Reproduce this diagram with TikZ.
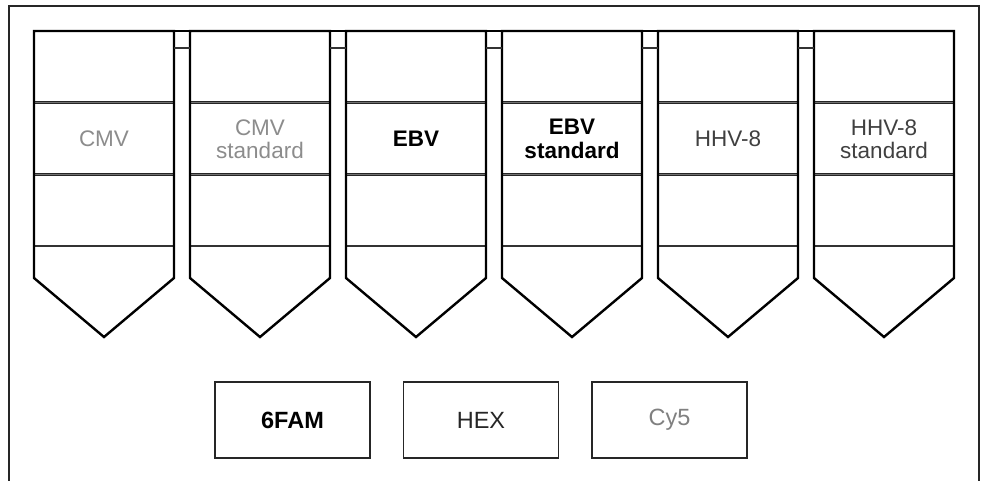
\documentclass[tikz,border=0pt]{standalone}
\usepackage{fontspec}
\setmainfont{Liberation Sans}
\begin{document}
\begin{tikzpicture}[x=1pt,y=-1pt,
  frame/.style={draw=black!85,line width=1.8pt},
  tube/.style={draw=black,line width=2.4pt,line join=miter},
  band/.style={draw=black!85,line width=1pt,double=black!55,double distance=1pt},
  thinline/.style={draw=black!80,line width=1.5pt},
  lbl/.style={font=\fontsize{22.5}{23.5}\selectfont,align=center,inner sep=0pt},
  dye/.style={draw=black!85,line width=1.6pt,minimum width=155pt,minimum height=76pt,inner sep=0pt,font=\fontsize{23.5}{25}\selectfont}]
\useasboundingbox (0,0) rectangle (984,480);
\begin{scope}
\clip (0,0) rectangle (984,480);
\draw[frame] (9,6) rectangle (979,500);
\end{scope}
% top continuous strip line
\draw[tube] (34,31) -- (954,31);
\foreach \i in {0,...,5}{
  \pgfmathsetmacro{\xl}{34+156*\i}
  \pgfmathsetmacro{\xr}{\xl+140}
  \pgfmathsetmacro{\xc}{\xl+70}
  \draw[band] (\xl,102) -- (\xr,102);
  \draw[band] (\xl,174) -- (\xr,174);
  \draw[thinline] (\xl,246) -- (\xr,246);
  \draw[tube] (\xl,31) -- (\xl,278) -- (\xc,337) -- (\xr,278) -- (\xr,31) -- cycle;
}
\foreach \i in {0,...,4}{
  \pgfmathsetmacro{\xa}{174+156*\i}
  \pgfmathsetmacro{\xb}{\xa+16}
  \draw[thinline] (\xa,48) -- (\xb,48);
}
\node[lbl,text=black!45] (cmv) at (104,139) {CMV};
\node[lbl,text=black!45] (cmvs) at (260,139) {CMV\\standard};
\node[lbl,text=black,font=\fontsize{22.5}{23.5}\selectfont\bfseries] (ebv) at (416,139) {EBV};
\node[lbl,text=black,font=\fontsize{22.5}{23.5}\selectfont\bfseries] (ebvs) at (572,139) {EBV\\standard};
\node[lbl,text=black!75] (hhv) at (728,139) {HHV-8};
\node[lbl,text=black!75] (hhvs) at (884,139) {HHV-8\\standard};
\node[dye,font=\fontsize{23.5}{25}\selectfont\bfseries] (fam) at (292.5,420) {6FAM};
\node[dye,text=black!85] (hex) at (481,420) {HEX};
\node[dye,text=black!50] (cy) at (669.5,420) {Cy5};
\end{tikzpicture}
\end{document}
